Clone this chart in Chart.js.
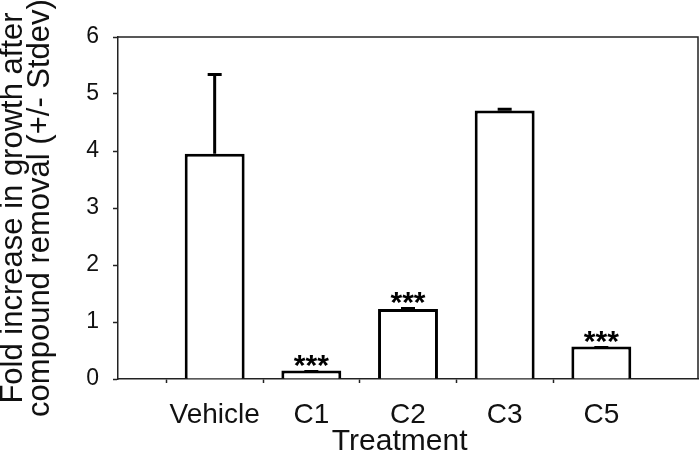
<!DOCTYPE html>
<html>
<head>
<meta charset="utf-8">
<script src="https://cdn.jsdelivr.net/npm/chart.js@4"></script>
<style>
  html, body { margin: 0; padding: 0; background: #fff; }
  #wrap { width: 700px; height: 464px; }
</style>
</head>
<body>
<div id="wrap"><canvas id="chart" width="700" height="464"></canvas></div>
<script>
// blank slots at both ends so the categories sit at 1..5 on a 0..6 axis
const categories = ['', 'Vehicle', 'C1', 'C2', 'C3', 'C5', ''];
const means = [null, 3.95, 0.15, 1.23, 4.71, 0.57, null];
const stdevs = [null, 1.42, 0.01, 0.035, 0.05, 0.01, null];
const stars = ['', '', '***', '***', '', '***', ''];
const yTicks = [0, 1, 2, 3, 4, 5, 6];

const FONT = "'Liberation Sans', Arial, sans-serif";

const extras = {
    id: 'extras',
    afterDatasetsDraw(chart) {
        const ctx = chart.ctx;
        const y = chart.scales.y;
        const area = chart.chartArea;
        const meta = chart.getDatasetMeta(0);

        ctx.save();
        // top and right sides of the frame
        ctx.strokeStyle = '#222';
        ctx.lineWidth = 1.5;
        ctx.beginPath();
        ctx.moveTo(area.left, area.top);
        ctx.lineTo(area.right, area.top);
        ctx.lineTo(area.right, area.bottom);
        ctx.stroke();

        meta.data.forEach((bar, i) => {
            if (means[i] == null) return;
            const topPx = y.getPixelForValue(means[i] + stdevs[i]);
            ctx.strokeStyle = '#000';
            ctx.lineWidth = 3;
            ctx.beginPath();
            ctx.moveTo(bar.x, bar.y);
            ctx.lineTo(bar.x, topPx + 1.5);
            ctx.moveTo(bar.x - 7, topPx + 1.5);
            ctx.lineTo(bar.x + 7, topPx + 1.5);
            ctx.stroke();

            if (stars[i]) {
                ctx.fillStyle = '#000';
                ctx.font = 'bold 30px ' + FONT;
                ctx.textAlign = 'center';
                ctx.textBaseline = 'alphabetic';
                ctx.fillText(stars[i], bar.x, Math.min(topPx, bar.y) + 5);
            }
        });
        ctx.restore();
    }
};

new Chart(document.getElementById('chart'), {
    type: 'bar',
    data: {
        labels: categories,
        datasets: [{
            data: means,
            backgroundColor: '#fff',
            borderColor: '#000',
            borderWidth: 3,
            borderSkipped: 'start',
            barPercentage: 0.62,
            categoryPercentage: 1
        }]
    },
    options: {
        responsive: false,
        devicePixelRatio: 1,
        animation: false,
        layout: { padding: { top: 37, right: 2, left: 0, bottom: 0 } },
        plugins: {
            legend: { display: false },
            tooltip: { enabled: false }
        },
        scales: {
            x: {
                offset: false,
                grid: {
                    drawOnChartArea: false,
                    drawTicks: true,
                    tickLength: 4,
                    tickWidth: 1.5,
                    tickColor: c => (c.index === 0 || c.index === categories.length - 1) ? 'rgba(0,0,0,0)' : '#222'
                },
                border: { color: '#222', width: 1.5 },
                ticks: {
                    color: '#111',
                    padding: 15,
                    maxRotation: 0,
                    autoSkip: false,
                    font: { family: FONT, size: 28 }
                },
                title: {
                    display: true,
                    text: 'Treatment  ',
                    color: '#111',
                    font: { family: FONT, size: 30, lineHeight: 1.2 },
                    padding: { top: 0, bottom: 4 }
                },
                afterFit(scale) {
                    scale.height = 85;
                    scale.paddingLeft = 0;
                    scale.paddingRight = 0;
                }
            },
            y: {
                min: 0,
                max: 6,
                afterBuildTicks(scale) { scale.ticks = yTicks.map(v => ({ value: v })); },
                grid: {
                    drawOnChartArea: false,
                    drawTicks: true,
                    tickLength: 5,
                    tickWidth: 1.5,
                    tickColor: '#222'
                },
                border: { color: '#222', width: 1.5 },
                ticks: {
                    color: '#111',
                    padding: 14,
                    font: { family: FONT, size: 23 }
                },
                title: {
                    display: true,
                    text: ['Fold increase in growth after', 'compound removal (+/- Stdev)'],
                    color: '#111',
                    font: { family: FONT, size: 31, lineHeight: 0.87 },
                    padding: { top: 0, bottom: 0 }
                },
                afterFit(scale) { scale.width = 118; }
            }
        }
    },
    plugins: [extras]
});
</script>
</body>
</html>
